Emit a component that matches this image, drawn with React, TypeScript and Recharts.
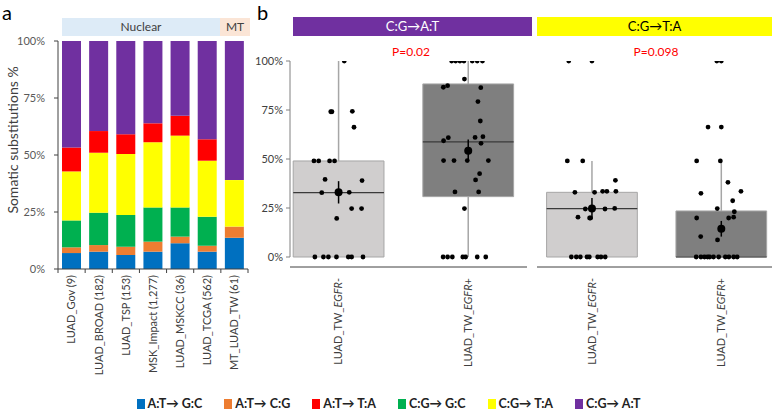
import { BarChart, Bar, XAxis, YAxis, ComposedChart, Scatter, ErrorBar, ReferenceArea, ReferenceLine } from 'recharts'

// panel a: stacked substitution spectra
const cohorts = ['LUAD_Gov (9)', 'LUAD_BROAD (182)', 'LUAD_TSP (153)', 'MSK_Impact (1,277)', 'LUAD_MSKCC (36)', 'LUAD_TCGA (562)', 'MT_LUAD_TW (61)']
const atToGc = [7, 7.6, 6.1, 7.6, 11.3, 7.6, 13.7]
const atToCg = [2.5, 2.9, 3.7, 4.4, 2.9, 2.6, 4.9]
const cgToGc = [11.8, 14.2, 13.9, 15, 12.8, 12.7, 0]
const cgToTa = [21.5, 26.3, 26.7, 28.6, 31.5, 24.6, 20.4]
const atToTa = [10.5, 9.5, 8.7, 8.3, 8.7, 9.4, 0]
const cgToAt = [46.7, 39.5, 40.9, 36.1, 32.8, 43.1, 61]
const pctTicks = [0, 25, 50, 75, 100]

// stacking order bottom -> top
const series = [
  { key: 'atgc', name: 'A:T\u2192 G:C', color: '#0070C0', values: atToGc },
  { key: 'atcg', name: 'A:T\u2192 C:G', color: '#ED7D31', values: atToCg },
  { key: 'cggc', name: 'C:G\u2192 G:C', color: '#00B050', values: cgToGc },
  { key: 'cgta', name: 'C:G\u2192 T:A', color: '#FFFF00', values: cgToTa },
  { key: 'atta', name: 'A:T\u2192 T:A', color: '#FF0000', values: atToTa },
  { key: 'cgat', name: 'C:G\u2192 A:T', color: '#7030A0', values: cgToAt },
]
const legendOrder = ['atgc', 'atcg', 'atta', 'cggc', 'cgta', 'cgat']

const barData = cohorts.map((c, i) => {
  const row: any = { name: c }
  series.forEach(s => { row[s.key] = s.values[i] })
  return row
})

// panel b: box plots (fractions), x positions in panel units
const groupLabels = ['LUAD_TW_', 'EGFR']
const groupSigns = ['-', '+']
const boxHalf = 1.915

// C:G->A:T panel
const atCenters = [2.05, 7.52]
const atBoxes = [
  { lo: 0, q1: 0, med: 0.328, q3: 0.49, hi: 1, mean: 0.33, err: 0.057, fill: '#D0CECE' },
  { lo: 0, q1: 0.308, med: 0.587, q3: 0.883, hi: 1, mean: 0.542, err: 0.057, fill: '#7F7F7F' },
]
const atPtsX = [
  2.29, 1.72, 1.77, 2.63, 2.70, 1.01, 1.21, 1.67, 1.88, 1.48, 3.04, 1.34, 2.50, 2.60, 3.02, 1.97,
  1.05, 1.41, 1.62, 1.96, 2.46, 2.60, 3.08,
  6.82, 6.99, 7.17, 7.34, 7.69, 7.90, 8.12, 7.36, 6.47, 6.65, 8.05, 7.93, 8.03, 6.48, 6.68, 7.81, 8.14,
  8.06, 6.48, 6.92, 7.48, 8.37, 8.00, 7.83, 6.96, 7.96, 7.36, 6.46, 6.65, 6.85, 7.29, 7.41, 7.90, 8.26,
]
const atPtsY = [
  1, 0.741, 0.741, 0.743, 0.662, 0.49, 0.49, 0.49, 0.49, 0.396, 0.39, 0.328, 0.33, 0.247, 0.247, 0.197,
  0, 0, 0, 0, 0, 0, 0,
  1, 1, 1, 1, 1, 1, 1, 0.908, 0.866, 0.874, 0.864, 0.793, 0.694, 0.593, 0.609, 0.61, 0.614,
  0.58, 0.492, 0.492, 0.492, 0.492, 0.425, 0.393, 0.332, 0.332, 0.247, 0, 0, 0, 0, 0, 0, 0,
]

// C:G->T:A panel
const taCenters = [2.32, 7.78]
const taBoxes = [
  { lo: 0, q1: 0, med: 0.247, q3: 0.33, hi: 0.49, mean: 0.247, err: 0.054, fill: '#D0CECE' },
  { lo: 0, q1: 0, med: 0, q3: 0.235, hi: 0.49, mean: 0.144, err: 0.04, fill: '#7F7F7F' },
]
const taPtsX = [
  1.34, 2.32, 1.28, 1.93, 3.31, 1.60, 2.43, 2.77, 2.95, 3.33, 2.04, 2.87, 3.28, 1.73, 2.22, 2.26,
  1.45, 1.66, 1.83, 2.11, 2.21, 2.56, 2.70, 2.88,
  7.59, 7.78, 7.22, 7.78, 6.74, 7.74, 8.06, 8.61, 6.92, 8.26, 7.61, 8.33, 6.74, 8.09, 8.30, 6.91, 7.62,
  6.72, 6.92, 7.07, 7.20, 7.29, 7.45, 7.67, 7.95, 8.10, 8.30, 8.45,
]
const taPtsY = [
  1, 1, 0.49, 0.49, 0.391, 0.33, 0.33, 0.335, 0.335, 0.335, 0.245, 0.245, 0.248, 0.203, 0.199, 0.199,
  0, 0, 0, 0, 0, 0, 0, 0,
  1, 1, 0.663, 0.663, 0.49, 0.49, 0.381, 0.335, 0.325, 0.287, 0.247, 0.231, 0.199, 0.199, 0.203, 0.104, 0.087,
  0, 0, 0, 0, 0, 0, 0, 0, 0, 0, 0,
]
const fracTicks = [0, 0.25, 0.5, 0.75, 1]

const font = "Lato, 'Liberation Sans', sans-serif"
const dark = '#404040'

const plotA = { left: 58, right: 248 }
const bandA = (plotA.right - plotA.left) / cohorts.length

const CohortTick = (props: any) => {
  const { x, y, payload, index } = props
  return (
    <g>
      <line x1={x - bandA / 2} y1={y} x2={x - bandA / 2} y2={y + 4} stroke={dark} />
      {index === cohorts.length - 1 && <line x1={x + bandA / 2} y1={y} x2={x + bandA / 2} y2={y + 4} stroke={dark} />}
      <text x={x} y={y + 6} transform={`rotate(-90, ${x}, ${y + 6})`} textAnchor="end" dy="0.35em" fontSize={11} fill={dark} fontFamily={font}>
        {payload.value}
      </text>
    </g>
  )
}

const GroupTick = (props: any) => {
  const { x, y, index } = props
  return (
    <text x={x} y={y + 11} transform={`rotate(-90, ${x}, ${y + 11})`} textAnchor="end" dy="0.35em" fontSize={11} fill={dark} fontFamily={font}>
      {groupLabels[0]}<tspan fontStyle="italic">{groupLabels[1]}</tspan>{groupSigns[index % 2]}
    </text>
  )
}

const dot = (props: any) => <circle cx={props.cx} cy={props.cy} r={2.4} fill="#000" />
const bigDot = (props: any) => <circle cx={props.cx} cy={props.cy} r={4} fill="#000" />

function BoxPanel({ left, width, centers, boxes, xs, ys, xMax, showY }: any) {
  const pts = xs.map((x: number, i: number) => ({ x, y: ys[i] }))
  const means = boxes.map((b: any, i: number) => ({ x: centers[i], y: b.mean, err: b.err }))
  return (
    <div style={{ position: 'absolute', left, top: 0 }}>
      <ComposedChart width={width} height={416} margin={showY ? { top: 61, right: 3, bottom: 49, left: 10 } : { top: 61, right: 5, bottom: 49, left: 5 }}>
        <XAxis type="number" dataKey="x" domain={[0, xMax]} ticks={centers} allowDataOverflow height={100}
          tick={<GroupTick />} tickLine={false} tickSize={0} tickMargin={0} axisLine={{ stroke: dark }} />
        <YAxis type="number" dataKey="y" domain={[-0.051, 1]} ticks={fracTicks} allowDataOverflow width={30} hide={!showY}
          axisLine={false} tickSize={4} tickMargin={3} tickLine={{ stroke: '#808080' }}
          tick={{ fontSize: 11, fill: dark, fontFamily: font }} tickFormatter={(v: number) => `${Math.round(v * 100)}%`} />
        {showY && <ReferenceLine segment={[{ x: 0, y: 0 }, { x: 0, y: 1 }]} stroke="#808080" ifOverflow="visible" />}
        {boxes.map((b: any, i: number) => (
          <ReferenceArea key={'a' + i} x1={centers[i] - boxHalf} x2={centers[i] + boxHalf} y1={b.q1} y2={b.q3}
            fill={b.fill} fillOpacity={1} stroke="#A6A6A6" ifOverflow="visible" />
        ))}
        {boxes.map((b: any, i: number) => (
          <ReferenceLine key={'w1' + i} segment={[{ x: centers[i], y: b.q3 }, { x: centers[i], y: b.hi }]} stroke="#A6A6A6" strokeWidth={1.5} ifOverflow="visible" />
        ))}
        {boxes.map((b: any, i: number) => (
          <ReferenceLine key={'w2' + i} segment={[{ x: centers[i], y: b.lo }, { x: centers[i], y: b.q1 }]} stroke="#A6A6A6" strokeWidth={1.5} ifOverflow="visible" />
        ))}
        {boxes.map((b: any, i: number) => (
          <ReferenceLine key={'m' + i} segment={[{ x: centers[i] - boxHalf, y: b.med }, { x: centers[i] + boxHalf, y: b.med }]} stroke="#3A3A3A" strokeWidth={1.2} ifOverflow="visible" />
        ))}
        <Scatter data={pts} shape={dot} isAnimationActive={false} />
        <Scatter data={means} shape={bigDot} isAnimationActive={false}>
          <ErrorBar dataKey="err" direction="y" width={0} stroke="#000" strokeWidth={1.5} />
        </Scatter>
      </ComposedChart>
    </div>
  )
}

export default function App() {
  const abs = (s: any) => ({ position: 'absolute' as const, fontFamily: font, ...s })
  return (
    <div style={{ position: 'absolute', left: 0, top: 0, width: 777, height: 416, background: '#fff', overflow: 'hidden' }}>
      <div style={abs({ left: 2, top: 0, fontSize: 20, lineHeight: '24px', color: '#000' })}>a</div>
      <div style={abs({ left: 257, top: 0, fontSize: 20, lineHeight: '24px', color: '#000' })}>b</div>

      <div style={abs({ left: 62, top: 18, width: 158, height: 18, background: '#DDEBF7', fontSize: 12, color: dark, textAlign: 'center', lineHeight: '18px' })}>Nuclear</div>
      <div style={abs({ left: 220, top: 18, width: 30, height: 18, background: '#FBE5D6', fontSize: 12, color: dark, textAlign: 'center', lineHeight: '18px' })}>MT</div>

      <div style={abs({ left: 0, top: 0 })}>
        <BarChart width={260} height={416} data={barData} margin={{ top: 41, right: 12, bottom: 47, left: 18 }}>
          <XAxis dataKey="name" interval={0} height={100} tick={<CohortTick />} tickLine={false} tickSize={0} tickMargin={0} axisLine={{ stroke: dark }} />
          <YAxis domain={[0, 100]} ticks={pctTicks} width={40} tickSize={4} tickMargin={9}
            axisLine={{ stroke: dark }} tickLine={{ stroke: dark }}
            tick={{ fontSize: 11, fill: '#595959', fontFamily: font }} tickFormatter={(v: number) => `${v}%`} />
          {series.map(s => (
            <Bar key={s.key} dataKey={s.key} stackId="a" fill={s.color} barSize={19} isAnimationActive={false} />
          ))}
        </BarChart>
      </div>
      <div style={abs({ left: 12, top: 140, fontSize: 14, color: dark, whiteSpace: 'nowrap', transform: 'translate(-50%, -50%) rotate(-90deg)' })}>
        Somatic substitutions %
      </div>

      <div style={abs({ left: 293, top: 17, width: 239, height: 19, background: '#7030A0', color: '#fff', fontSize: 13, textAlign: 'center', lineHeight: '19px' })}>C:G→A:T</div>
      <div style={abs({ left: 537, top: 17, width: 235, height: 19, background: '#FFFF00', color: '#000', fontSize: 13, textAlign: 'center', lineHeight: '19px' })}>C:G→T:A</div>
      <div style={abs({ left: 371, top: 44, width: 80, fontSize: 12, color: '#FF0000', textAlign: 'center' })}>P=0.02</div>
      <div style={abs({ left: 616, top: 44, width: 80, fontSize: 12, color: '#FF0000', textAlign: 'center' })}>P=0.098</div>

      <BoxPanel left={250} width={280} centers={atCenters} boxes={atBoxes} xs={atPtsX} ys={atPtsY} xMax={10} showY />
      <BoxPanel left={532} width={245} centers={taCenters} boxes={taBoxes} xs={taPtsX} ys={taPtsY} xMax={9.92} showY={false} />

      <div style={abs({ left: 0, top: 396, width: 777, display: 'flex', justifyContent: 'center', gap: 22, fontSize: 12.5, fontWeight: 'bold', color: '#222' })}>
        {legendOrder.map(k => {
          const s = series.find(x => x.key === k)!
          return (
            <div key={k} style={{ display: 'flex', alignItems: 'center', gap: 3 }}>
              <span style={{ display: 'inline-block', width: 8, height: 10, background: s.color }} />
              <span>{s.name}</span>
            </div>
          )
        })}
      </div>
    </div>
  )
}
